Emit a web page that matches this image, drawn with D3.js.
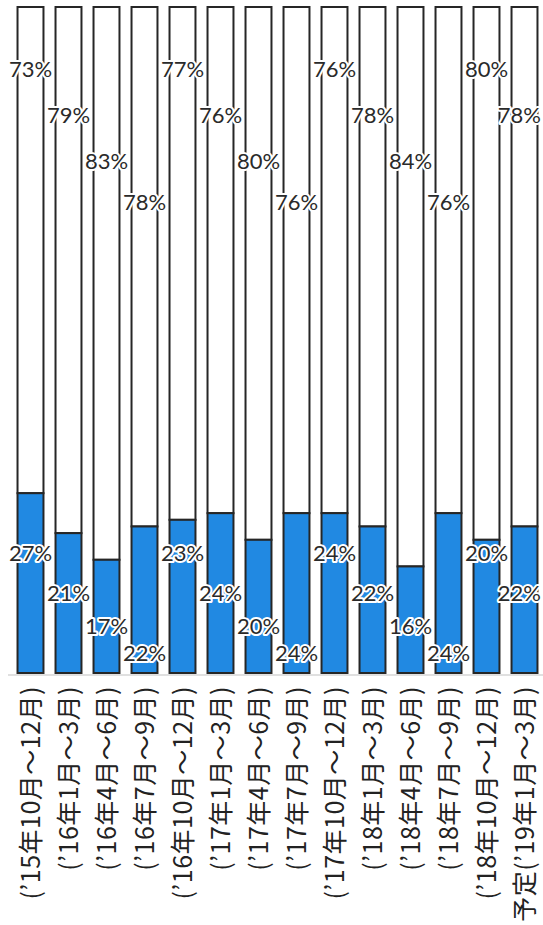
<!DOCTYPE html>
<html>
<head>
<meta charset="utf-8">
<script src="https://cdn.jsdelivr.net/npm/d3@7/dist/d3.min.js"></script>
<style>
  html, body { margin: 0; padding: 0; background: #fff; }
  svg { display: block; }
</style>
</head>
<body>
<svg id="chart" width="543" height="925"></svg>
<script>
// Quarterly periods (last one is the forecast)
const periods = [
  "(’15年10月～12月)", "(’16年1月～3月)", "(’16年4月～6月)", "(’16年7月～9月)",
  "(’16年10月～12月)", "(’17年1月～3月)", "(’17年4月～6月)", "(’17年7月～9月)",
  "(’17年10月～12月)", "(’18年1月～3月)", "(’18年4月～6月)", "(’18年7月～9月)",
  "(’18年10月～12月)", "予定(’19年1月～3月)"
];
// Lower (blue) share, %
const lowerShare = [27, 21, 17, 22, 23, 24, 20, 24, 24, 22, 16, 24, 20, 22];
// Upper (white) share, %
const upperShare = [73, 79, 83, 78, 77, 76, 80, 76, 76, 78, 84, 76, 80, 78];

const W = 543, H = 925;
const svg = d3.select("#chart");

const x = d3.scaleBand()
  .domain(periods)
  .range([11.5, 543.5])
  .paddingInner(0.317)
  .paddingOuter(0.1585);

const y = d3.scaleLinear().domain([0, 100]).range([673, 7]);

const BLUE = "#2189e2";
const EDGE = "#262626";

const rows = periods.map((p, i) => ({ p, lower: lowerShare[i], upper: upperShare[i], i }));

const g = svg.append("g");

// baseline
g.append("line")
  .attr("x1", 8).attr("x2", W)
  .attr("y1", y(0) + 2).attr("y2", y(0) + 2)
  .attr("stroke", "#d6d6d6").attr("stroke-width", 1.5);

const bars = g.selectAll("g.bar").data(rows).join("g").attr("class", "bar");

// upper segment stacked on the lower one
bars.append("rect")
  .attr("x", d => x(d.p))
  .attr("width", x.bandwidth())
  .attr("y", d => y(d.lower + d.upper))
  .attr("height", d => y(d.lower) - y(d.lower + d.upper))
  .attr("fill", "#fff")
  .attr("stroke", EDGE).attr("stroke-width", 2);

bars.append("rect")
  .attr("x", d => x(d.p))
  .attr("width", x.bandwidth())
  .attr("y", d => y(d.lower))
  .attr("height", d => y(0) - y(d.lower))
  .attr("fill", BLUE)
  .attr("stroke", EDGE).attr("stroke-width", 2);

// value labels, staggered over four levels so neighbours do not collide
const upperLevels = [68, 114, 160, 201];
const lowerLevels = [552, 592, 625, 652];

function valueLabel(sel, yPos, val) {
  sel.append("text")
    .attr("x", d => x(d.p) + x.bandwidth() / 2)
    .attr("y", yPos)
    .attr("text-anchor", "middle")
    .attr("dominant-baseline", "central")
    .attr("font-family", "Lato, 'Open Sans', sans-serif")
    .attr("font-size", 22)
    .attr("fill", "#2a2a2a")
    .attr("stroke", "#fff").attr("stroke-width", 4)
    .attr("stroke-linejoin", "round")
    .attr("paint-order", "stroke")
    .text(d => val(d) + "%")
    .each(function () {
      // keep labels inside the right edge
      const half = this.getComputedTextLength() / 2;
      const cx = +this.getAttribute("x");
      if (cx + half > W - 2) this.setAttribute("x", W - 2 - half);
    });
}
valueLabel(bars, d => upperLevels[d.i % 4], d => d.upper);
valueLabel(bars, d => lowerLevels[d.i % 4], d => d.lower);

// period labels, vertical
g.selectAll("text.period").data(rows).join("text")
  .attr("class", "period")
  .attr("transform", d => `translate(${x(d.p) + x.bandwidth() / 2 - 2},686) rotate(-90)`)
  .attr("text-anchor", "end")
  .attr("dominant-baseline", "central")
  .attr("font-family", "'Noto Sans CJK JP', sans-serif")
  .attr("font-size", 25)
  .attr("letter-spacing", 0.5)
  .attr("fill", "#222")
  .text(d => d.p);
</script>
</body>
</html>
